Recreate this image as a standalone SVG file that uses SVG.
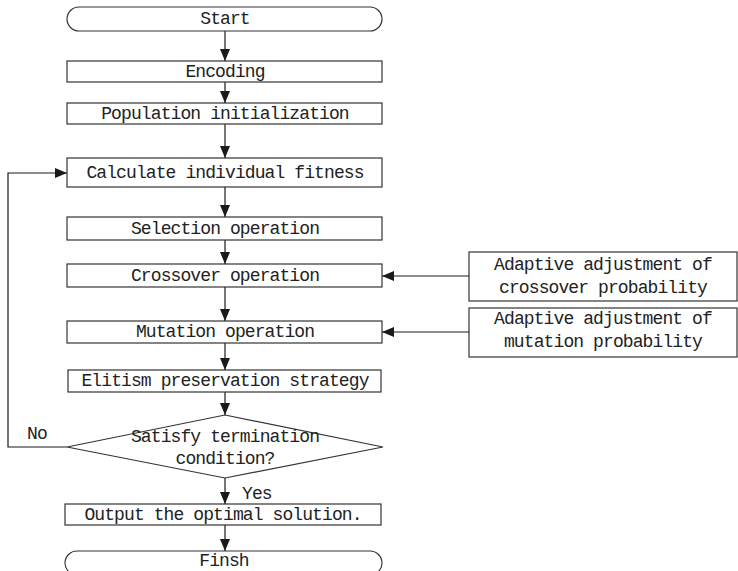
<svg xmlns="http://www.w3.org/2000/svg" width="738" height="571" viewBox="0 0 738 571">
<defs>
<marker id="ah" viewBox="0 0 12 10" refX="12" refY="5" markerWidth="12" markerHeight="10" markerUnits="userSpaceOnUse" orient="auto">
<path d="M0,0 L12,5 L0,10 Z" fill="#1a1a1a"/>
</marker>
<style>
.box{fill:#fff;stroke:#333;stroke-width:1.2}
.t{font-family:"Liberation Mono","DejaVu Sans Mono",monospace;font-size:18px;letter-spacing:-0.9px;fill:#222;text-anchor:middle;dominant-baseline:central}
.l{font-family:"Liberation Mono","DejaVu Sans Mono",monospace;font-size:18px;letter-spacing:-0.9px;fill:#222}
.c{fill:none;stroke:#1a1a1a;stroke-width:1.2}
</style>
</defs>
<rect width="738" height="571" fill="#fff"/>
<g id="connectors">
<line class="c" x1="225" y1="31" x2="225" y2="61" marker-end="url(#ah)"/>
<line class="c" x1="225" y1="82" x2="225" y2="103" marker-end="url(#ah)"/>
<line class="c" x1="225" y1="124" x2="225" y2="158" marker-end="url(#ah)"/>
<line class="c" x1="225" y1="187" x2="225" y2="217" marker-end="url(#ah)"/>
<line class="c" x1="225" y1="240" x2="225" y2="264" marker-end="url(#ah)"/>
<line class="c" x1="225" y1="287" x2="225" y2="321" marker-end="url(#ah)"/>
<line class="c" x1="225" y1="343" x2="225" y2="370" marker-end="url(#ah)"/>
<line class="c" x1="225" y1="392" x2="225" y2="415" marker-end="url(#ah)"/>
<line class="c" x1="225" y1="478" x2="225" y2="504" marker-end="url(#ah)"/>
<line class="c" x1="225" y1="525" x2="225" y2="551" marker-end="url(#ah)"/>
<polyline class="c" points="67,447 8,447 8,173 67,173" marker-end="url(#ah)"/>
<line class="c" x1="469" y1="276" x2="382" y2="276" marker-end="url(#ah)"/>
<line class="c" x1="469" y1="332" x2="382" y2="332" marker-end="url(#ah)"/>
<text class="l" x="27" y="439">No</text>
<text class="l" x="242" y="499">Yes</text>
</g>
<g id="start"><rect class="box" x="67" y="7" width="315" height="24" rx="12"/><text class="t" x="225" y="19">Start</text></g>
<g id="encoding"><rect class="box" x="67" y="61" width="315" height="21"/><text class="t" x="225" y="72">Encoding</text></g>
<g id="population"><rect class="box" x="67" y="103" width="315" height="21"/><text class="t" x="225" y="114">Population initialization</text></g>
<g id="fitness"><rect class="box" x="67" y="158" width="315" height="29"/><text class="t" x="225" y="173">Calculate individual fitness</text></g>
<g id="selection"><rect class="box" x="67" y="217" width="315" height="23"/><text class="t" x="225" y="229">Selection operation</text></g>
<g id="crossover"><rect class="box" x="67" y="264" width="315" height="23"/><text class="t" x="225" y="276">Crossover operation</text></g>
<g id="mutation"><rect class="box" x="67" y="321" width="315" height="22"/><text class="t" x="225" y="332">Mutation operation</text></g>
<g id="elitism"><rect class="box" x="68" y="370" width="313" height="22"/><text class="t" x="225" y="381">Elitism preservation strategy</text></g>
<g id="decision"><polygon class="box" points="225,415 383,447 225,478 67,447"/><text class="t" x="225" y="437">Satisfy termination</text><text class="t" x="225" y="459">condition?</text></g>
<g id="output"><rect class="box" x="65" y="504" width="316" height="21"/><text class="t" x="223" y="515">Output the optimal solution.</text></g>
<g id="finish"><rect class="box" x="65" y="551" width="317" height="24" rx="12"/><text class="t" x="224" y="561">Finsh</text></g>
<g id="adapt-crossover"><rect class="box" x="469" y="252" width="268" height="49"/><text class="t" x="603" y="265">Adaptive adjustment of</text><text class="t" x="603" y="288">crossover probability</text></g>
<g id="adapt-mutation"><rect class="box" x="469" y="308" width="268" height="49"/><text class="t" x="603" y="319">Adaptive adjustment of</text><text class="t" x="603" y="342">mutation probability</text></g>
</svg>
